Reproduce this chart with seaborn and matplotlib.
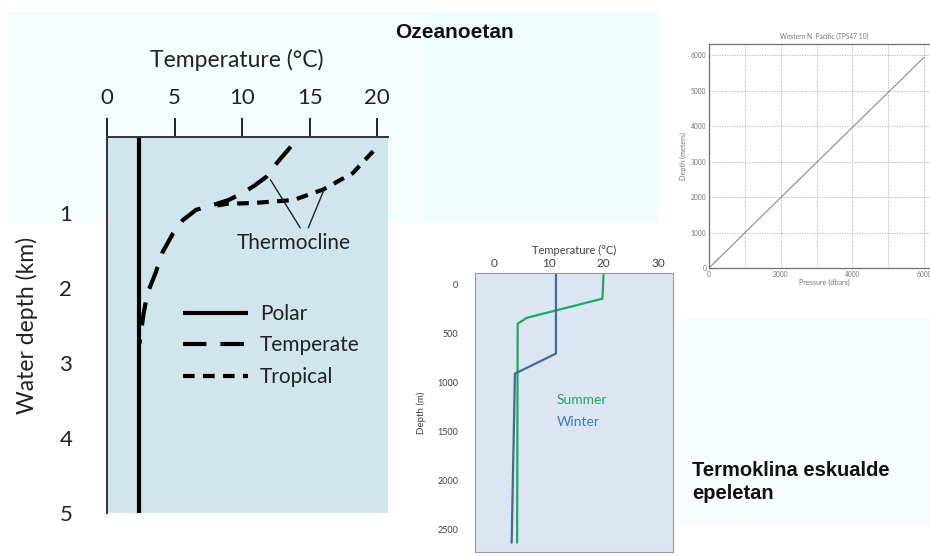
import matplotlib
matplotlib.use("Agg")
import matplotlib.pyplot as plt
import seaborn as sns
import pandas as pd
from matplotlib.patches import Rectangle

# ---------------- data ----------------
# Left chart: temperature profiles (°C) vs water depth (km)
polar_temp = [2.4, 2.4]
polar_depth = [0.0, 5.0]
temperate_temp = [13.6, 12.6, 11.8, 10.9, 10.1, 9.0, 7.6, 6.6, 5.6, 4.9, 4.1, 3.6, 3.0, 2.7, 2.4]
temperate_depth = [0.12, 0.33, 0.52, 0.64, 0.73, 0.83, 0.91, 0.96, 1.10, 1.27, 1.53, 1.80, 2.07, 2.35, 2.75]
tropical_temp = [19.7, 18.2, 16.0, 13.8, 10.8, 8.9, 7.6]
tropical_depth = [0.18, 0.47, 0.69, 0.83, 0.87, 0.88, 0.92]
left_xticks = [0, 5, 10, 15, 20]
left_yticks = [1, 2, 3, 4, 5]
left_labels = ["Polar", "Temperate", "Tropical"]

# Middle chart: summer / winter profiles (°C) vs depth (m)
summer_temp = [20.0, 19.8, 6.0, 4.3, 4.2]
summer_depth = [-110, 140, 335, 395, 2630]
winter_temp = [11.3, 11.3, 3.8, 3.2]
winter_depth = [-110, 700, 905, 2630]
mid_xticks = [0, 10, 20, 30]
mid_yticks = [0, 500, 1000, 1500, 2000, 2500]

# Right chart: depth (m) vs pressure (dbar)
pressure = [0, 1000, 2000, 3000, 4000, 5000, 6000]
depth_m = [0, 990, 1985, 2975, 3965, 4950, 5940]
right_xticks = [0, 2000, 4000, 6000]
right_yticks = [0, 1000, 2000, 3000, 4000, 5000, 6000]

# ---------------- figure ----------------
sns.set_style("white")
plt.rcParams["font.family"] = ["Lato", "DejaVu Sans"]

W, H = 930, 556
fig = plt.figure(figsize=(W / 100, H / 100), dpi=100, facecolor="white")


def box(l, t, r, b):
    return [l / W, 1 - b / H, (r - l) / W, (b - t) / H]


def rect(l, t, r, b, color):
    fig.patches.append(Rectangle((l / W, 1 - b / H), (r - l) / W, (b - t) / H,
                                 transform=fig.transFigure, facecolor=color,
                                 edgecolor="none", zorder=-10))


rect(8, 12, 658, 222, "#f4fcfd")
rect(425, 12, 658, 222, "#edfdff")
rect(680, 318, 930, 525, "#f6fbfd")

# ---------------- left chart ----------------
ax = fig.add_axes(box(107, 137, 388, 513))
ax.set_facecolor("#d0e5ec")
lw = 3.0
sns.lineplot(x=polar_temp, y=polar_depth, sort=False, estimator=None, ax=ax,
             color="black", lw=lw, label=left_labels[0])
sns.lineplot(x=temperate_temp, y=temperate_depth, sort=False, estimator=None, ax=ax,
             color="black", lw=lw, label=left_labels[1])
sns.lineplot(x=tropical_temp, y=tropical_depth, sort=False, estimator=None, ax=ax,
             color="black", lw=lw, label=left_labels[2])
lines = ax.get_lines()
lines[0].set_solid_capstyle("butt")
lines[1].set_dashes((5.6, 3.4))
lines[2].set_dashes((2.8, 2.0))
for ln in lines:
    ln.set_dash_capstyle("butt")

ax.set_xlim(0, 20.8)
ax.set_ylim(5, -0.01)
ax.xaxis.tick_top()
ax.xaxis.set_label_position("top")
ax.set_xticks(left_xticks)
ax.set_yticks(left_yticks)
ax.tick_params(axis="both", direction="out", length=14, width=1.4, color="#222222",
               labelsize=16, labelcolor="#222222")
ax.tick_params(axis="x", pad=7)
ax.tick_params(axis="y", pad=11)
for s in ["right", "bottom"]:
    ax.spines[s].set_visible(False)
for s in ["top", "left"]:
    ax.spines[s].set_color("#333333")
    ax.spines[s].set_linewidth(1.4)
ax.set_xlabel("Temperature (°C)", fontsize=16.5, color="#222222")
ax.xaxis.set_label_coords(0.463, 1.185)
ax.set_ylabel("Water depth (km)", fontsize=16.5, color="#222222")
ax.yaxis.set_label_coords(-0.245, 0.5)

ax.text(13.85, 1.40, "Thermocline", fontsize=15, ha="center", va="center", color="#222222")
ax.annotate("", xy=(12.1, 0.56), xytext=(14.3, 1.20),
            arrowprops=dict(arrowstyle="-", color="#222222", lw=1.0, shrinkA=0, shrinkB=0))
ax.annotate("", xy=(16.0, 0.72), xytext=(14.9, 1.20),
            arrowprops=dict(arrowstyle="-", color="#222222", lw=1.0, shrinkA=0, shrinkB=0))

leg = ax.legend(loc="upper left", bbox_to_anchor=((183 - 107) / 281, (513 - 304) / 376),
                frameon=False, fontsize=15, handlelength=3.1, handletextpad=0.6,
                labelspacing=0.55, borderpad=0, borderaxespad=0)
for t in leg.get_texts():
    t.set_color("#222222")

# ---------------- middle chart ----------------
ax2 = fig.add_axes(box(475, 273, 673, 552))
ax2.set_facecolor("#dce6f2")
sns.lineplot(x=summer_temp, y=summer_depth, sort=False, estimator=None, ax=ax2,
             color="#1fa860", lw=1.6)
sns.lineplot(x=winter_temp, y=winter_depth, sort=False, estimator=None, ax=ax2,
             color="#41699a", lw=1.6)
ax2.set_xlim(-3.5, 32.7)
ax2.set_ylim(2725, -122)
ax2.xaxis.tick_top()
ax2.xaxis.set_label_position("top")
ax2.set_xticks(mid_xticks)
ax2.set_yticks(mid_yticks)
ax2.tick_params(axis="x", length=0, labelsize=8.5, labelcolor="#404040", pad=3)
ax2.tick_params(axis="y", length=0, labelsize=6.5, labelcolor="#404040", pad=12)
for s in ax2.spines.values():
    s.set_color("#9a9a9a")
    s.set_linewidth(0.8)
ax2.set_xlabel("Temperature (°C)", fontsize=8, color="#404040", labelpad=3)
ax2.set_ylabel("Depth (m)", fontsize=7, color="#404040", labelpad=8)
ax2.text(11.5, 1170, "Summer", fontsize=10, color="#1fa860", va="center", ha="left")
ax2.text(11.5, 1395, "Winter", fontsize=10, color="#3f78b5", va="center", ha="left")

# ---------------- right chart ----------------
ax3 = fig.add_axes(box(709, 44, 940, 268))
ax3.set_facecolor("white")
sns.lineplot(x=pressure, y=depth_m, sort=False, estimator=None, ax=ax3,
             color="#8a8a8a", lw=0.8)
ax3.set_xlim(0, 6440)
ax3.set_ylim(0, 6310)
ax3.set_xticks(right_xticks)
ax3.set_yticks(right_yticks)
ax3.set_xticks([1000, 3000, 5000], minor=True)
ax3.grid(True, which="both", color="#b0b0b0", lw=0.6, ls=(0, (1.5, 1.5)))
ax3.tick_params(axis="both", which="both", length=2, direction="in", color="#777777",
                labelsize=4.8, labelcolor="#777777", pad=2)
for s in ax3.spines.values():
    s.set_color("#707070")
    s.set_linewidth(0.9)
ax3.set_title("Western N. Pacific (TPS47 10)", fontsize=4.8, color="#777777", pad=4)
ax3.set_xlabel("Pressure (dbars)", fontsize=5.2, color="#777777", labelpad=1)
ax3.set_ylabel("Depth (meters)", fontsize=5.2, color="#777777", labelpad=3)

# ---------------- slide texts ----------------
fig.text(395 / W, 1 - 32 / H, "Ozeanoetan", fontsize=15, fontweight="bold",
         family=["Liberation Sans", "DejaVu Sans"], color="#111111", ha="left", va="center")
fig.text(692 / W, 1 - 482 / H, "Termoklina eskualde\nepeletan", fontsize=14.5,
         fontweight="bold", family=["Liberation Sans", "DejaVu Sans"], color="#111111",
         ha="left", va="center", linespacing=1.25)

fig.savefig("out.png", dpi=100, facecolor="white")
